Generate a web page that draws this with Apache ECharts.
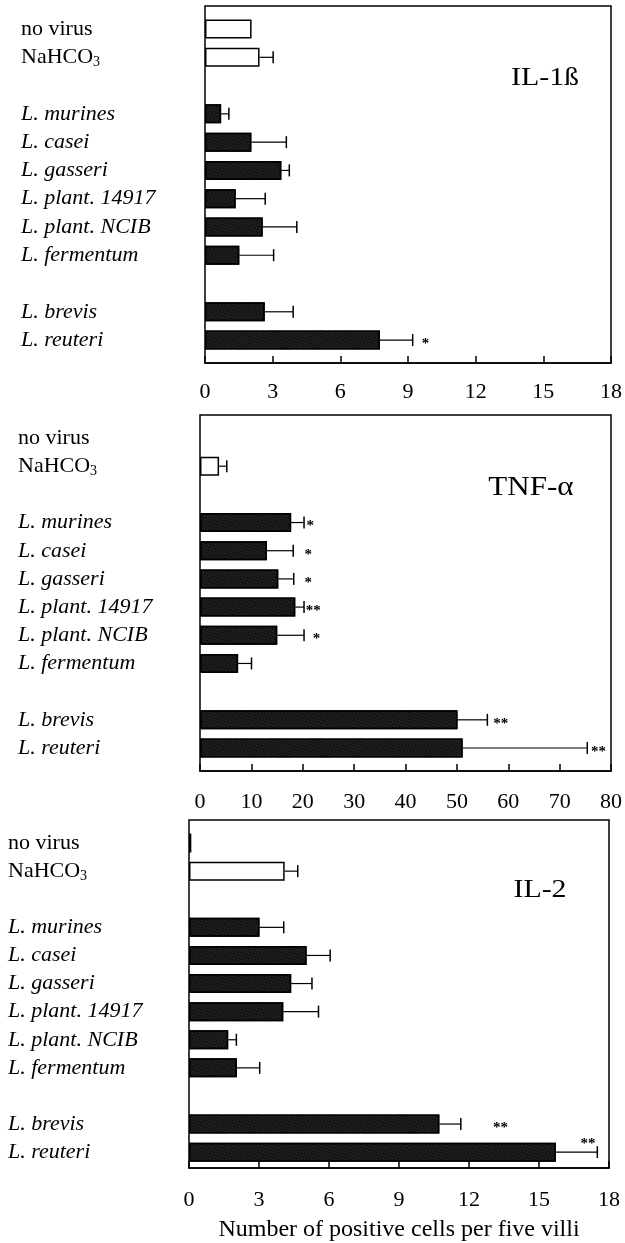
<!DOCTYPE html>
<html><head><meta charset="utf-8">
<script src="https://cdn.jsdelivr.net/npm/echarts@6/dist/echarts.min.js"></script>
<style>html,body{margin:0;padding:0;background:#fff}#c{width:625px;height:1243px}</style>
</head><body><div id="c"></div>
<script>
// ---- data ----
const categories = ['no virus', 'NaHCO3', ' ', 'L. murines', 'L. casei', 'L. gasseri', 'L. plant. 14917', 'L. plant. NCIB', 'L. fermentum', '  ', 'L. brevis', 'L. reuteri'];

const il1bMean = [2.05, 2.4, null, 0.71, 2.04, 3.36, 1.35, 2.54, 1.51, null, 2.63, 7.7];
const il1bSd   = [null, 0.6, null, 0.34, 1.54, 0.35, 1.3, 1.5, 1.51, null, 1.25, 1.44];
const il1bStars = [['L. reuteri', 9.7, '*', 0]];
const il1bTicks = [0, 3, 6, 9, 12, 15, 18];

const tnfMean = [null, 3.7, null, 17.7, 13.0, 15.2, 18.5, 15.0, 7.4, null, 50.0, 51.0];
const tnfSd   = [null, 1.5, null, 2.5, 5.1, 3.0, 1.7, 5.2, 2.6, null, 5.8, 24.2];
const tnfStars = [['L. murines', 21.4, '*', 0], ['L. casei', 21.0, '*', 0], ['L. gasseri', 21.0, '*', 0],
                  ['L. plant. 14917', 22.0, '**', 0], ['L. plant. NCIB', 22.6, '*', 0],
                  ['L. brevis', 58.4, '**', 0], ['L. reuteri', 77.4, '**', 0]];
const tnfTicks = [0, 10, 20, 30, 40, 50, 60, 70, 80];

const il2Mean = [0.1, 4.1, null, 3.02, 5.04, 4.38, 4.04, 1.68, 2.05, null, 10.73, 15.72];
const il2Sd   = [null, 0.56, null, 1.04, 1.01, 0.89, 1.51, 0.35, 0.98, null, 0.92, 1.78];
const il2Stars = [['L. brevis', 13.35, '**', 0], ['L. reuteri', 17.1, '**', -0.42]];
const il2Ticks = [0, 3, 6, 9, 12, 15, 18];

const panelLabels = ['IL-1ß', 'TNF-α', 'IL-2'];
const axisTitle = 'Number of positive cells per five villi';

// ---- layout ----
const layout = [
  {left: 205, right: 11, frameTop: 6, frameH: 357, dataTop: 14.9, dataH: 339.3, labelMargin: 184, tickMargin: 18, tag: [545, 78]},
  {left: 200, right: 13, frameTop: 415, frameH: 356, dataTop: 423.9, dataH: 338.2, labelMargin: 182, tickMargin: 20, tag: [531, 488]},
  {left: 189, right: 16, frameTop: 820, frameH: 348, dataTop: 829, dataH: 337.2, labelMargin: 181, tickMargin: 21, tag: [540, 890]}
];
const panels = [
  {mean: il1bMean, sd: il1bSd, stars: il1bStars, ticks: il1bTicks},
  {mean: tnfMean, sd: tnfSd, stars: tnfStars, ticks: tnfTicks},
  {mean: il2Mean, sd: il2Sd, stars: il2Stars, ticks: il2Ticks}
];

const SERIF = '"Liberation Serif", "Times New Roman", serif';

function catLabel(v) {
  if (!v.trim()) return '';
  if (v === 'NaHCO3') return '{n|NaHCO}{s|3}';
  if (v.indexOf('L.') === 0) return '{i|' + v + '}';
  return '{n|' + v + '}';
}

const darkStyle = {
  color: '#161616', borderColor: '#000', borderWidth: 1.5,
  decal: {symbol: 'rect', symbolSize: 0.6, color: 'rgba(255,255,255,0.45)',
          dashArrayX: [1, 2], dashArrayY: [1, 2], rotation: 0.3}
};
const whiteStyle = {color: '#fff', borderColor: '#000', borderWidth: 1.5};

const grid = [], xAxis = [], yAxis = [], series = [], graphic = [];
panels.forEach((p, k) => {
  const L = layout[k];
  const min = p.ticks[0], max = p.ticks[p.ticks.length - 1], interval = p.ticks[1] - p.ticks[0];
  grid.push({left: L.left, right: L.right, top: L.frameTop, height: L.frameH, show: true,
    borderColor: '#000', borderWidth: 1.5, backgroundColor: 'transparent', containLabel: false});
  grid.push({left: L.left, right: L.right, top: L.dataTop, height: L.dataH, containLabel: false});
  const fx = {
    type: 'value', gridIndex: 2 * k, min: min, max: max, interval: interval,
    axisLine: {show: true, lineStyle: {color: '#000', width: 1.5}},
    axisTick: {show: true, inside: true, length: 7, lineStyle: {color: '#000', width: 1.5}},
    axisLabel: {color: '#000', fontFamily: SERIF, fontSize: 22, margin: L.tickMargin},
    splitLine: {show: false}
  };
  if (k === 2) {
    fx.name = axisTitle; fx.nameLocation = 'middle'; fx.nameGap = 50;
    fx.nameTextStyle = {color: '#000', fontFamily: SERIF, fontSize: 24};
  }
  xAxis.push(fx);
  xAxis.push({type: 'value', gridIndex: 2 * k + 1, min: min, max: max, show: false, splitLine: {show: false}});
  yAxis.push({type: 'value', gridIndex: 2 * k, show: false, splitLine: {show: false}});
  yAxis.push({
    type: 'category', gridIndex: 2 * k + 1, data: categories, inverse: true,
    axisLine: {show: false}, axisTick: {show: false}, splitLine: {show: false},
    axisLabel: {
      align: 'left', margin: L.labelMargin, interval: 0, formatter: catLabel,
      rich: {
        n: {fontFamily: SERIF, fontSize: 22, color: '#000'},
        i: {fontFamily: SERIF, fontSize: 22, color: '#000', fontStyle: 'italic'},
        s: {fontFamily: SERIF, fontSize: 14, color: '#000', padding: [10, 0, 0, 0]}
      }
    }
  });
  series.push({
    type: 'bar', xAxisIndex: 2 * k + 1, yAxisIndex: 2 * k + 1, barWidth: 19,
    data: p.mean.map((v, i) => v == null ? null : {value: v, itemStyle: i < 2 ? whiteStyle : darkStyle})
  });
  const errData = [];
  p.mean.forEach((v, i) => { if (v != null && p.sd[i] != null) errData.push([v, i, p.sd[i]]); });
  series.push({
    type: 'custom', xAxisIndex: 2 * k + 1, yAxisIndex: 2 * k + 1, data: errData,
    encode: {x: 0, y: 1}, silent: true,
    renderItem: (params, api) => {
      const m = api.value(0), idx = api.value(1), sd = api.value(2);
      const p0 = api.coord([m, idx]), p1 = api.coord([m + sd, idx]);
      const h = 6;
      return {type: 'group', children: [
        {type: 'line', shape: {x1: p0[0], y1: p0[1], x2: p1[0], y2: p1[1]}, style: {stroke: '#000', lineWidth: 1.2}},
        {type: 'line', shape: {x1: p1[0], y1: p1[1] - h, x2: p1[0], y2: p1[1] + h}, style: {stroke: '#000', lineWidth: 1.5}}
      ]};
    }
  });
  series.push({
    type: 'custom', xAxisIndex: 2 * k + 1, yAxisIndex: 2 * k + 1,
    data: p.stars.map(s => [s[1], categories.indexOf(s[0]), s[2], s[3]]),
    encode: {x: 0, y: 1}, silent: true,
    renderItem: (params, api) => {
      const d = p.stars[params.dataIndex];
      const pt = api.coord([d[1], categories.indexOf(d[0])]);
      const band = api.size([0, 1])[1];
      return {type: 'text', x: pt[0], y: pt[1] + 4 + d[3] * band,
        style: {text: d[2], fill: '#000', fontSize: 15, fontWeight: 'bold', fontFamily: SERIF,
                align: 'center', verticalAlign: 'middle'}};
    }
  });
  graphic.push({type: 'text', x: L.tag[0], y: L.tag[1], scaleX: 1.15,
    style: {text: panelLabels[k], fill: '#000', fontFamily: SERIF, fontSize: k === 1 ? 27 : 26,
            align: 'center', verticalAlign: 'middle'}});
});

const chart = echarts.init(document.getElementById('c'), null, {renderer: 'canvas'});
chart.setOption({animation: false, backgroundColor: '#fff', grid, xAxis, yAxis, series, graphic});
</script>
</body></html>
